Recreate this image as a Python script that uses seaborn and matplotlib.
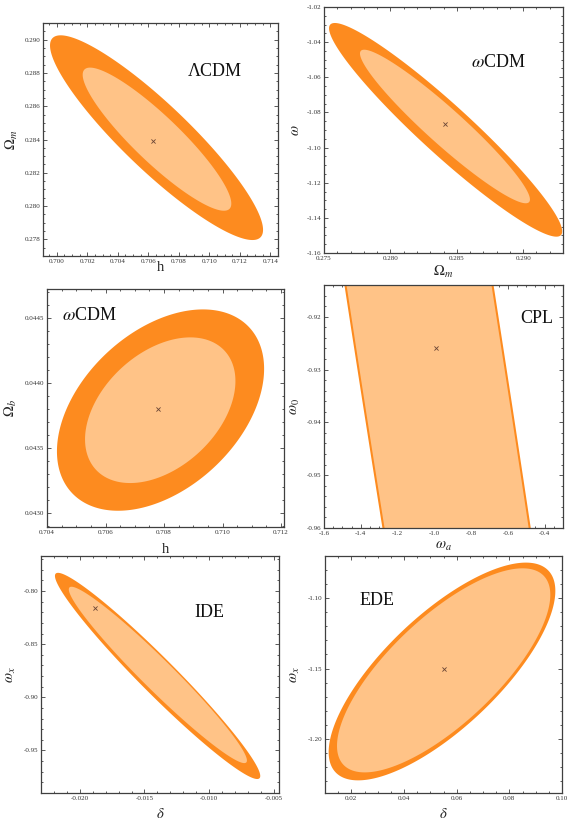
import numpy as np
import matplotlib
matplotlib.use("Agg")
import matplotlib.pyplot as plt
import seaborn as sns
from matplotlib.ticker import FormatStrFormatter, MultipleLocator, AutoMinorLocator

# ---------------- data ----------------
models = ["ΛCDM", r"$\omega$CDM", r"$\omega$CDM", "CPL", "IDE", "EDE"]
x_labels = ["h", r"$\Omega_m$", "h", r"$\omega_a$", r"$\delta$", r"$\delta$"]
y_labels = [r"$\Omega_m$", r"$\omega$", r"$\Omega_b$", r"$\omega_0$", r"$\omega_x$", r"$\omega_x$"]

# best-fit points
best_x = [0.7063, 0.28411, 0.70781, -0.9927, -0.01885, 0.05532]
best_y = [0.2839, -1.0864, 0.043797, -0.926, -0.81565, -1.150]

# outer (2 sigma) contour: centre, half-extents, correlation
outer_cx = [0.70654, 0.28416, 0.70788, -1.030, -0.013986, 0.05443]
outer_cy = [0.28411, -1.0899, 0.043789, -0.926, -0.87984, -1.1521]
outer_ax = [0.00698, 0.00878, 0.00354, 1.432, 0.007936, 0.04304]
outer_ay = [0.00615, 0.0608, 0.000774, 0.3087, 0.0970, 0.0775]
outer_rho = [-0.90, -0.95, 0.41, -0.959, -0.970, 0.74]

# inner (1 sigma) contour
inner_cx = [0.70657, 0.28411, 0.70787, -1.030, -0.013965, 0.05506]
inner_cy = [0.28402, -1.0880, 0.043788, -0.926, -0.8789, -1.1513]
inner_ax = [0.00487, 0.00640, 0.00257, 1.392, 0.006885, 0.04050]
inner_ay = [0.00430, 0.0437, 0.00056, 0.300, 0.08297, 0.07263]
inner_rho = [-0.90, -0.95, 0.40, -0.959, -0.970, 0.74]

# axes ranges and ticks
x_lims = [(0.6991, 0.7145), (0.2750, 0.2930), (0.7040, 0.7121), (-1.6, -0.30), (-0.0230, -0.0046), (0.010, 0.100)]
y_lims = [(0.2770, 0.2910), (-1.16, -1.02), (0.04289, 0.04472), (-0.96, -0.914), (-0.990, -0.767), (-1.2386, -1.0699)]
x_major = [0.002, 0.005, 0.002, 0.2, 0.005, 0.02]
y_major = [0.002, 0.02, 0.0005, 0.01, 0.05, 0.05]
x_fmt = ["%.3f", "%.3f", "%.3f", "%.1f", "%.3f", "%.2f"]
y_fmt = ["%.3f", "%.2f", "%.4f", "%.2f", "%.2f", "%.2f"]

# ---------------- style ----------------
sns.set_theme(style="ticks")
plt.rcParams["font.family"] = ["Liberation Serif", "DejaVu Serif"]
plt.rcParams["mathtext.fontset"] = "stix"
plt.rcParams["axes.unicode_minus"] = True

OUTER = "#FD8B1F"
INNER = "#FFC387"
SPINE = "#3f3f3f"

# layout (pixel boxes: left, right, top, bottom)
W, H = 568, 823
boxes = [(43, 278, 23, 256), (324, 563, 7, 253), (47, 284, 289, 527),
         (324, 563, 285, 528), (41, 279, 556, 793), (325, 562, 556, 793)]
text_pos = [(0.73, 0.79), (0.73, 0.776), (0.18, 0.887), (0.889, 0.864), (0.708, 0.76), (0.2215, 0.814)]
xlab_y = [-0.02, -0.045, -0.067, -0.05, -0.059, -0.059]
ylab_x = [-0.098, -0.092, -0.118, -0.092, -0.097, -0.097]

fig = plt.figure(figsize=(W / 100, H / 100), dpi=100)
t = np.linspace(0, 2 * np.pi, 600)


def ellipse(cx, cy, ax_, ay_, rho):
    xs = cx + ax_ * np.cos(t)
    ys = cy + ay_ * (rho * np.cos(t) + np.sqrt(1 - rho ** 2) * np.sin(t))
    return xs, ys


for i in range(6):
    l, r, tp, b = boxes[i]
    ax = fig.add_axes([l / W, 1 - b / H, (r - l) / W, (b - tp) / H])
    ax.set_facecolor("white")

    xo, yo = ellipse(outer_cx[i], outer_cy[i], outer_ax[i], outer_ay[i], outer_rho[i])
    ax.fill(xo, yo, color=OUTER, lw=0, zorder=1)
    xi, yi = ellipse(inner_cx[i], inner_cy[i], inner_ax[i], inner_ay[i], inner_rho[i])
    ax.fill(xi, yi, color=INNER, lw=0, zorder=2)

    sns.scatterplot(x=[best_x[i]], y=[best_y[i]], marker="x", color="#6a4535",
                    s=9, linewidth=0.6, ax=ax, zorder=3, legend=False)

    ax.set_xlim(*x_lims[i])
    ax.set_ylim(*y_lims[i])
    ax.xaxis.set_major_locator(MultipleLocator(x_major[i]))
    ax.yaxis.set_major_locator(MultipleLocator(y_major[i]))
    ax.xaxis.set_minor_locator(AutoMinorLocator())
    ax.yaxis.set_minor_locator(AutoMinorLocator())
    ax.xaxis.set_major_formatter(FormatStrFormatter(x_fmt[i]))
    ax.yaxis.set_major_formatter(FormatStrFormatter(y_fmt[i]))

    ax.tick_params(which="both", direction="in", top=True, right=True,
                   colors=SPINE, labelcolor="#333333", labelsize=5, width=0.6, pad=2)
    ax.tick_params(which="major", length=3)
    ax.tick_params(which="minor", length=1.5)
    for sp in ax.spines.values():
        sp.set_color(SPINE)
        sp.set_linewidth(0.9)

    ax.set_xlabel(x_labels[i], fontsize=10.5, color="#222222")
    ax.set_ylabel(y_labels[i], fontsize=10.5, color="#222222")
    ax.xaxis.set_label_coords(0.5, xlab_y[i])
    ax.yaxis.set_label_coords(ylab_x[i], 0.5)

    ax.text(text_pos[i][0], text_pos[i][1], models[i], transform=ax.transAxes,
            ha="center", va="center", fontsize=13, color="#111111", zorder=4)

fig.savefig("out.png", dpi=100, facecolor="white")
